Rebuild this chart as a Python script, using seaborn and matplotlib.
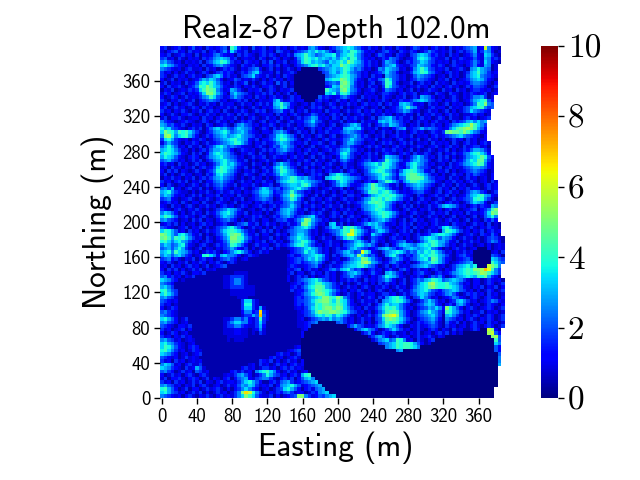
import numpy as np
import pandas as pd
import seaborn as sns
import matplotlib.pyplot as plt

# Cell values estimated by eye, top row first, one character per 4 m cell.
# Character = base-36 digit (a = 10) times value_step, missing = no data.
# Blobs and shapes follow the picture, single-cell speckle is only approximate.
value_step = 0.42
cell_rows = [
    "3412342135 2314323451 a842315234 1324231342 3267532134 6789865324 2314231432 1354231342 3142324567 23e6321",
    "2134523142 3241342463 8532413234 2315423134 5687978642 5687a97532 3124532143 2431246432 3241342457 2476312",
    "3241234231 4132356432 3142432134 2431324267 8a87567889 5789a86423 1354231432 1457875342 3142312346 3287421",
    "4523142132 3143467876 3412323143 1243132136 8a98978768 6897a96432 3124365421 2358986432 2413243235 3276342",
    "6754231323 2414578a97 4231432314 2513241235 8a97876587 8a8ca87534 2314765312 4356875423 2314232346 4286321",
    "8976432132 3142356754 3214324213 3424132134 5689a89768 8ca9876534 2314678432 2458765324 3124321346 327612",
    "6543231342 2314231243 4213245631 2413124213 0000045678 78a9756423 1265876523 1368a85423 2412342167 976512",
    "4231312423 1243124534 3124357842 2314123420 0000004578 68a8654231 2346865312 2478a96532 1342312478 a76423",
    "4312423134 2314578634 2314568432 4213143200 0000000567 89a9764231 4231765423 1257654312 3142312578 965432",
    "3124132312 3576875312 3542324213 1342313200 0000000789 9cb9753214 3256a85423 1346543213 2413123467 875321",
    "2413231423 5898a86423 1423513124 2315241300 0000000456 5bca742313 4125a95312 2413423142 3214232356 654213",
    "3142342134 6a9ca87532 2431324213 3421241200 0000000348 7cba642314 2314a85423 1324231423 1342312435 543124",
    "1324123243 48acba6423 7642132341 2431323400 0000000a87 6bc9653123 4213654231 2413124321 4231423134 432312",
    "2431234132 358cca7531 6865421324 2413124130 0000000879 59a8542132 3124432134 2341232143 2143213243 234123",
    "3124312423 2467a85423 5754231423 1342312423 0000053432 3564321423 2314321324 1242765312 3124213246 67412",
    "4213243124 1345654231 2342413132 2368423423 3000342312 4231324213 1324213243 3467875423 1324312357 89a53",
    "2341312342 1324231423 3124231342 4278a76321 2314231243 1324231342 3241342378 7532314231 2413231246 a9c65",
    "3412423124 3142312324 2413124213 2367a85312 3124342134 2413123421 2314123468 a763213423 3142324578 9a645",
    "4231324213 2413423142 1324312434 1245632413 2413231423 3124234132 4231323457 6423124231 2413124586 5432",
    "3124213342 1324231324 3142423123 2314231342 1235423134 2413123423 1324231324 2314132423 1342312234 2312",
    "2413342123 3142313423 2413134212 4231423124 2457632314 3142342312 4156785342 2413423124 3142213423 1234",
    "6432123432 1243124231 3124342134 1324213423 3568542132 2413231423 2378786542 3124231342 2314345786 867",
    "7645324213 2314312342 1467542313 2431324213 2456423134 1245786324 1346587643 1324132423 1346789ada 864",
    "9785432134 2413578675 4687653124 3142413242 3124231342 3278878423 2413213567 2345756543 2368abcdca 753",
    "8ca97a9a86 4213467897 5678643213 3256753124 2314132423 3467654312 3124231423 1342312432 4bcbbaca86 532",
    "6cd9689a75 3124356786 7897654231 2458986531 4231342134 1245675342 1324123423 2413231342 3456786543 213",
    "4897432313 2431245678 9a87632413 3468a97642 1342213423 2356865423 2413231342 1324124231 3124231423 123",
    "2575421324 3124234567 8a97531324 2346876423 2413342134 1257754312 3124342134 2413231423 2314213423 1342",
    "5797523142 2413468975 6543221342 1354786531 3124123423 2456432134 2431213423 1324312342 1342314234 4231",
    "7898642313 1342577865 3124323124 2435675423 1342312342 4678542313 1324324231 2413124213 2413124357 7642",
    "8a98753214 2413689876 4213243142 1324542313 2413243123 4897423134 2413432134 3142243124 1324235689 a863",
    "7987532134 3124678976 5423124234 1243231342 3124124231 3786421324 2314876531 2468642314 2413124678 9b953",
    "5675423124 2413467897 6532413123 4231124213 2431423124 2564312345 2345a87642 3578653124 2314235798 bb742",
    "3423142312 4231246897 8643214231 3146865324 1324231342 1342213467 897a986423 6897642312 3142346789 ba632",
    "2314231324 1342358a98 7532413124 2368a86431 2413124231 3142312356 789a976432 5896543124 1342324567 76532",
    "3142413212 4213469a97 6421324213 4257a97642 1324231342 2413431246 89a9764258 9a97632413 2413123456 54312",
    "2413124231 2314358976 5312432134 2346987653 3124342167 9865323145 678a975378 abb9864231 3124231435 43213",
    "1324231324 1342467865 4213124231 3124678a97 6754231789 a987654324 5689764256 abbba75423 3142312423 12313",
    "4231342413 2413356754 3124231324 2315789a98 9876542134 7986532134 3267a97536 8aa9876532 1324231342 123142",
    "3142123124 3124245643 2413324213 3412567887 9a85423124 6875323468 b976532413 5678754312 4231423124 213423",
    "5647231342 2413134532 1324213468 7545356789 7642312342 2413124578 ba98642313 2467643124 2314132423 312423",
    "7896432213 1324213423 4231324578 8634467a75 4231324213 1342312469 aa89a86423 2345532134 1342312467 643124",
    "6875323124 2413324132 3142213467 7523578c97 5312413124 2314423135 789a9a9764 3214312342 2413123578 9a7632",
    "4563212342 1324213423 1324123456 5412467a85 3124231342 1342312467 a9a8a98653 2413423124 3124234569 a96421",
    "2342314213 3142124321 2413231324 3423356754 2413124231 3124234579 aba9764231 3124231342 1342312468 763124",
    "3214231342 1324231342 3124312342 1342456864 1324231342 2413123567 89a9753124 2413124235 7876423134 243276",
    "4321342132 4213124568 7642123124 2413678753 2413124213 1324231467 8a98653213 4231324213 1342312345 1346ac",
    "6875313124 2314235789 7532413231 3124678642 3124342124 3142312345 789a986423 1342213423 2413231423 2358cb",
    "8a97523423 1342124687 6421324342 1243567534 5678423134 2413423124 678a975312 2413124231 3124123124 125796",
    "6754312314 2413213456 4313124213 3124453246 8cb7542312 1324231342 5678643124 1342312342 1342312413 214353",
    "2342413123 1342312342 1245632413 4231324235 bc96423178 2413123468 7865323134 2413231342 2314323124 2314121",
    "5432123413 2413124568 9753124231 3142312467 8975312468 75a9a86423 6875421324 3142312324 8975421342 1324321",
    "8a97523142 3124234689 a986423124 2413124567 7642312345 68a9ea8642 4687532134 2413124231 7a98642313 2413423",
    "cb97589753 2413124579 bcb8532413 3124231568 8642313124 68aefa7532 8653213423 3124234789 9875312342 1432531",
    "bca7a9a864 2314213468 cca9642312 2413124679 8753124231 458a975312 5432134231 3124689875 7653124231 31245421",
    "9a86897642 3124312357 bba8531324 1342312578 a975312342 2134578642 6423123456 2313579a97 7532413242 31246531",
    "6875689532 1342124346 a975312423 3124234689 a864231342 3145689867 5312413578 7657898a97 6423124231 23131232",
    "5675797421 2413213245 7532413124 2413112345 6897642312 4235786542 3467865346 7876789653 1213423123 00031232",
    "7896a87642 3124342134 6897531242 3111111345 6978642312 4578645fa7 3214678986 4658798a86 4231324230 00002314",
    "6875786431 239a863786 6531243211 1111113423 5678986314 246786c864 5312689642 4357989a97 6421345320 00005431",
    "4563421324 1342312456 4312311111 1111112345 4687975312 3124678cb8 6431246753 2457896ba7 5321234530 00008754",
    "3242132413 2431324213 4211111111 1111112345 3456753124 2356789cdb 7642356431 3124678a97 5312345670 0000a865",
    "2314231342 3124123451 1111111111 1111112432 2345631242 3467889a86 5312413423 2456786542 3124678979 000eca6",
    "3142413124 2413231111 1111111111 1111113245 1342312356 4789645313 4231342145 3124231342 1324789a9c cdhfa64",
    "4231324213 3241111111 1222211111 1111112413 3124231423 1246786423 5321786431 2134532134 2346789a9a bdca864",
    "5634231324 1111111122 4444211111 1111113124 2413123423 1345754231 3246987532 1324313546 3124678987 a9b7431",
    "8764312111 1111111122 4664211111 1111113124 5678975423 1324342142 3245753124 1346578a98 5678764213 31243231",
    "6543111111 1111111122 4664211111 1111111234 3578aa8764 2413124231 3142423134 124689cda9 9a87642313 31243124",
    "7864111111 1111111122 4444222111 1111111342 4689bba764 3124231342 1324312423 135789bca9 9a98753213 24132413",
    "9a75411111 1111111111 2222222111 1111111423 3578cba986 4231324213 1342131242 2467897543 5678754231 31243124",
    "8a86411111 1111111111 2222222111 1111111123 4679bcb975 3124213423 3124423124 2457875423 4675312434 23142312",
    "6754211111 1111111111 1122211111 1111111134 356789cca9 ca64213124 3142689a86 3145864231 2346532134 21343213",
    "5432311111 1111111111 1114884211 1111111134 4568abcca8 b985312423 2416789a97 5312468642 3134786423 12346532",
    "4231211111 1111111111 1114994211 1111111134 3567a9bba9 ba85321324 1357978864 3124578743 1342675312 31243213",
    "3124311111 1111111111 1114884272 1111111123 2468a9bcca cb86423142 2468a9a864 2313457686 3c97531342 12343124",
    "5643211111 1111111111 11136634g4 2111111112 3457acbbcc ba97542313 1357abba75 3124679764 2a97642312 24132312",
    "6543211111 1111111111 11124475h5 2111111112 2456898a97 9864213124 246bdefc75 3124567864 1786421324 31243124",
    "8975312411 1111111122 46646324a4 2111111112 3124567686 7642312423 1458bcba86 4213456753 1654231342 13243124",
    "6754312311 1111111124 6886632484 1111111112 2345600000 5642312413 1357a9a975 3124345642 1532413124 23142312",
    "5432133241 1111111124 4664322473 1111111112 2340000000 0003575423 2467987531 1324234542 1423123134 21343124",
    "4231234131 1111111122 2332212362 1111111111 2300000000 0000035786 5312468642 3124213431 3214231124 300ec31",
    "3124312311 1111111122 2332212142 1111111111 3000000000 0000000246 3124324223 1324123134 2413120000 000de53",
    "4231324231 1111111112 2222211111 1111111111 3000000000 0000000002 4675312423 3124234213 2000000000 0000cd5",
    "6754231232 1111111112 1222111111 1111111111 0000000000 0000000000 2467856a96 2314213400 0000000000 00000a5",
    "8976432123 1111111111 1111111111 1111111111 0000000000 0000000000 0045678a9a a975312000 0000000000 0000086",
    "8a97532134 3111111111 1111111111 1111111123 0000000000 0000000000 0000678a9a a986000000 0000000000 0000053",
    "9a86423124 3211111111 1111111111 1111112345 0000000000 0000000000 0000000670 0000000000 0000000000 0000053",
    "8764312312 3411111111 1111111111 1113423124 0000000000 0000000000 0000000000 0000000000 0000000000 0000005",
    "5432312423 2111111111 1111111111 1342312342 0000000000 0000000000 0000000000 0000000000 0000000000 0000006",
    "4231423123 2311111111 1111111143 2413124231 3000000000 0000000000 0000000000 0000000000 0000000000 0000006",
    "6875231342 2411111111 1111123142 3124231342 3000000000 0000000000 0000000000 0000000000 0000000000 0000007",
    "8764321423 7521111111 1113423124 4231342423 2000000000 0000000000 0000000000 0000000000 0000000000 000000",
    "5643124231 5423111111 3424231689 a863124231 2300000000 0000000000 0000000000 0000000000 0000000000 000000",
    "3124231342 1342111123 2467531246 9754231342 79a0000000 0000000000 0000000000 0000000000 0000000000 000000",
    "2413342134 3124132134 1356732456 6421342413 5786000000 0000000000 0000000000 0000000000 0000000000 000000",
    "4231423124 2413213423 3246897531 1342567423 4567800000 0000000000 0000000000 0000000000 0000000000 000000",
    "6754231324 1342123124 2357687423 2413678975 2345670000 0000000000 0000000000 0000000000 0000000000 000000",
    "9a75312413 3124234213 1346864312 3124589753 1342567000 0000000000 0000000000 0000000000 0000000000 00000",
    "8975423124 2413124231 246cge9642 1324356423 3124367800 0000000000 0000000000 0000000000 0000000000 00000",
    "6543231342 1324213423 2468ca8532 241312345c c642354678 0000000000 0000000000 0000000000 0000000000 00000",
]

eastings = [4 * i for i in range(100)]
northings = [4 * i for i in range(99, -1, -1)]
northing_ticks = [40 * i for i in range(10)]
cbar_ticks = [0, 2, 4, 6, 8, 10]

title = 'Realz-87 Depth 102.0m'
xlabel = 'Easting (m)'
ylabel = 'Northing (m)'


def decode_rows(rows):
    """Turn the text rows into a 100x100 array, short rows end in NaN."""
    grid = np.full((100, 100), np.nan)
    for i, row in enumerate(rows):
        chars = row.replace(' ', '')[:100]
        for j, ch in enumerate(chars):
            grid[i, j] = int(ch, 36) * value_step
    return grid


plt.rcParams['axes.unicode_minus'] = False
plt.rcParams['axes.formatter.use_mathtext'] = True

data = pd.DataFrame(decode_rows(cell_rows), index=northings, columns=eastings)

fig = plt.figure(figsize=(6.4, 4.8), dpi=100)
ax = fig.add_axes([160 / 640, 82 / 480, 352 / 640, 352 / 480])
cax = fig.add_axes([541 / 640, 82 / 480, 17 / 640, 352 / 480])

sns.heatmap(data, ax=ax, cbar_ax=cax, cmap='jet', vmin=0, vmax=10,
            xticklabels=10, yticklabels=False,
            cbar_kws={'ticks': cbar_ticks})

# northing ticks sit on the cell edges in the reference
ax.set_yticks([(northings[0] + 4 - n) / 4 for n in northing_ticks])
ax.set_yticklabels([str(n) for n in northing_ticks], family='cmss10', fontsize=13.5, rotation=0)
ax.set_xticklabels([str(e) for e in eastings[::10]], family='cmss10', fontsize=13.5, rotation=0)
ax.tick_params(length=4, width=1, pad=3)

ax.set_title(title, family='cmss10', fontsize=22.5, pad=6)
ax.set_xlabel(xlabel, family='cmss10', fontsize=22.5, labelpad=4)
ax.set_ylabel(ylabel, family='cmss10', fontsize=22.5, labelpad=6)

cax.set_yticklabels([str(t) for t in cbar_ticks], family='cmr10', fontsize=24)
cax.tick_params(length=4, width=1, pad=3)

fig.savefig('out.png', dpi=100)
